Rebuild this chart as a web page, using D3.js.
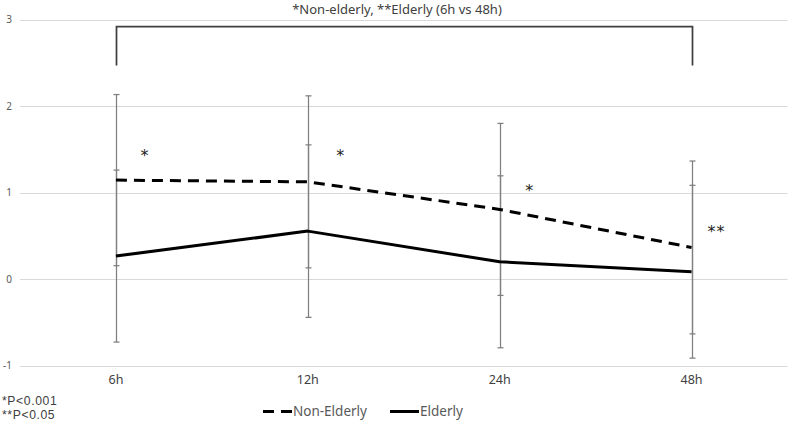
<!DOCTYPE html>
<html>
<head>
<meta charset="utf-8">
<script src="https://cdn.jsdelivr.net/npm/d3@7"></script>
<style>
  html, body { margin: 0; padding: 0; background: #fff; }
  svg { display: block; }
  text { font-family: "Noto Sans", "DejaVu Sans", sans-serif; }
</style>
</head>
<body>
<svg id="chart" width="789" height="421"></svg>
<script>
// ---- data ----
const categories = ["6h", "12h", "24h", "48h"];
const nonElderly = [1.145, 1.125, 0.806, 0.366];
const nonElderlyErr = [0.99, 0.995, 0.995, 1.0];
const elderly = [0.266, 0.555, 0.200, 0.085];
const elderlyErr = [0.995, 0.998, 0.995, 1.0];
const yTicks = [-1, 0, 1, 2, 3];
const sigLabels = ["*", "*", "*", "**"];
const sigLevels = [1.445, 1.445, 1.04, 0.57];
const titleText = "*Non-elderly, **Elderly (6h vs 48h)";
const footnotes = ["*P<0.001", "**P<0.05"];
const seriesNames = ["Non-Elderly", "Elderly"];
const bracketLevels = [2.47, 2.92];

// ---- layout ----
const svg = d3.select("#chart");
const plotLeft = 20, plotRight = 787.5;
const x = d3.scaleBand().domain(categories).range([plotLeft, plotRight]);
const cx = c => x(c) + x.bandwidth() / 2;
const y = d3.scaleLinear().domain([-1, 3]).range([365.5, 19.8]);

// gridlines
svg.append("g").selectAll("line").data(yTicks).join("line")
  .attr("x1", plotLeft).attr("x2", plotRight)
  .attr("y1", d => Math.round(y(d)) + 0.5).attr("y2", d => Math.round(y(d)) + 0.5)
  .attr("stroke", "#d9d9d9").attr("stroke-width", 1);

// y labels
svg.append("g").selectAll("text").data(yTicks).join("text")
  .attr("x", 12).attr("y", d => y(d)).attr("dy", "0.35em")
  .attr("text-anchor", "end").attr("font-size", 10).attr("fill", "#595959")
  .text(d => d);

// x labels
svg.append("g").selectAll("text").data(categories).join("text")
  .attr("x", d => cx(d)).attr("y", 384)
  .attr("text-anchor", "middle").attr("font-size", 12.5).attr("fill", "#404040")
  .text(d => d);

// error bars
function errorBars(vals, errs) {
  const g = svg.append("g").attr("stroke", "#7f7f7f").attr("stroke-width", 1.25);
  categories.forEach((c, i) => {
    const xx = Math.round(cx(c)) + 0.5;
    const top = y(vals[i] + errs[i]), bot = y(vals[i] - errs[i]);
    g.append("line").attr("x1", xx).attr("x2", xx).attr("y1", top).attr("y2", bot);
    g.append("line").attr("x1", xx - 3).attr("x2", xx + 3).attr("y1", top).attr("y2", top);
    g.append("line").attr("x1", xx - 3).attr("x2", xx + 3).attr("y1", bot).attr("y2", bot);
  });
}
errorBars(nonElderly, nonElderlyErr);
errorBars(elderly, elderlyErr);

// lines
const line = d3.line().x((d, i) => cx(categories[i])).y(d => y(d));
svg.append("path").datum(nonElderly).attr("d", line)
  .attr("fill", "none").attr("stroke", "#000").attr("stroke-width", 3)
  .attr("stroke-dasharray", "11,7");
svg.append("path").datum(elderly).attr("d", line)
  .attr("fill", "none").attr("stroke", "#000").attr("stroke-width", 3)
  .attr("stroke-linejoin", "round");

// significance stars
const starOffsets = [29, 33, 30, 25];
svg.append("g").selectAll("text").data(sigLabels).join("text")
  .attr("x", (d, i) => cx(categories[i]) + starOffsets[i])
  .attr("y", (d, i) => y(sigLevels[i]))
  .attr("dy", "0.45em")
  .attr("text-anchor", "middle").attr("font-size", 16).attr("fill", "#222")
  .attr("letter-spacing", 1)
  .style("font-family", "'DejaVu Sans', sans-serif")
  .text(d => d);

// bracket
const bx1 = Math.round(cx(categories[0])) + 0.5, bx2 = Math.round(cx(categories[3])) + 0.5;
svg.append("path")
  .attr("d", `M${bx1},${y(bracketLevels[0])}V${y(bracketLevels[1])}H${bx2}V${y(bracketLevels[0])}`)
  .attr("fill", "none").attr("stroke", "#404040").attr("stroke-width", 1.75);

// title annotation
svg.append("text").attr("x", 397).attr("y", 14)
  .attr("text-anchor", "middle").attr("font-size", 13).attr("fill", "#404040")
  .text(titleText);

// footnotes
svg.append("g").selectAll("text").data(footnotes).join("text")
  .attr("x", 2).attr("y", (d, i) => 404.5 + i * 14)
  .attr("font-size", 12.2).attr("letter-spacing", 0.6).attr("fill", "#404040")
  .style("font-family", "'Liberation Sans', sans-serif")
  .text(d => d);

// legend
const leg = svg.append("g");
const legItems = [
  { name: seriesNames[0], x0: 263, dash: "11,7" },
  { name: seriesNames[1], x0: 390, dash: null }
];
legItems.forEach(it => {
  leg.append("line").attr("x1", it.x0).attr("x2", it.x0 + 29)
    .attr("y1", 411.5).attr("y2", 411.5)
    .attr("stroke", "#000").attr("stroke-width", 3)
    .attr("stroke-dasharray", it.dash);
  leg.append("text").attr("x", it.x0 + 30).attr("y", 411.5).attr("dy", "0.35em")
    .attr("font-size", 13.5).attr("fill", "#595959").text(it.name);
});
</script>
</body>
</html>
